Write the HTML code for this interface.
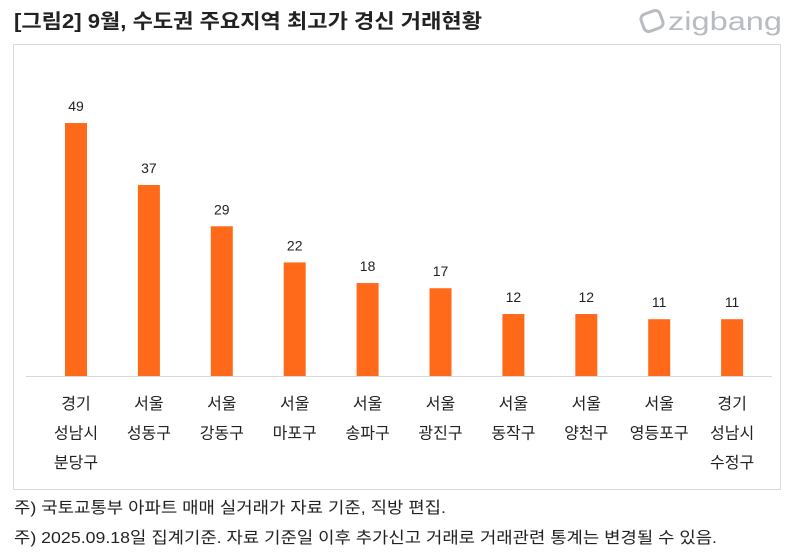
<!DOCTYPE html>
<html><head><meta charset="utf-8"><style>
body{margin:0;width:800px;height:549px;background:#fff;overflow:hidden;font-family:"Liberation Sans","Noto Sans CJK KR",sans-serif;}
</style></head><body>
<svg width="800" height="549" xmlns="http://www.w3.org/2000/svg">
<text x="14" y="28" font-size="20" font-weight="bold" fill="#222" textLength="468" lengthAdjust="spacingAndGlyphs" font-family="Liberation Sans,Noto Sans CJK KR,sans-serif">[그림2] 9월, 수도권 주요지역 최고가 경신 거래현황</text>
<g>
<rect x="642" y="12" width="20" height="18" rx="5" fill="none" stroke="#b8bcc2" stroke-width="3" transform="rotate(-20 652 21)"/>
<text x="668" y="30" font-size="26" fill="#b8bcc2" textLength="114" lengthAdjust="spacingAndGlyphs" font-family="Liberation Sans,sans-serif">zigbang</text>
</g>
<rect x="13.5" y="44.5" width="767" height="445" fill="none" stroke="#d9d9d9"/>
<line x1="26" y1="376.5" x2="772" y2="376.5" stroke="#d9d9d9"/>
<g id="bars"></g>
<text x="14" y="513" font-size="16" fill="#222" textLength="432" lengthAdjust="spacingAndGlyphs">주) 국토교통부 아파트 매매 실거래가 자료 기준, 직방 편집.</text>
<text x="14" y="543" font-size="16" fill="#222" textLength="703" lengthAdjust="spacingAndGlyphs">주)  2025.09.18일 집계기준. 자료 기준일 이후 추가신고 거래로 거래관련 통계는 변경될 수 있음.</text>
</svg>
<script>
const categories=[["경기","성남시","분당구"],["서울","성동구"],["서울","강동구"],["서울","마포구"],["서울","송파구"],["서울","광진구"],["서울","동작구"],["서울","양천구"],["서울","영등포구"],["경기","성남시","수정구"]];
const values=[49,37,29,22,18,17,12,12,11,11];
const NS="http://www.w3.org/2000/svg";
const g=document.getElementById("bars");
const x0=76,step=72.9,base=376,scale=5.163,bw=22;
const xPos=i=>x0+i*step;
const yPos=v=>base-v*scale;
values.forEach((v,i)=>{
  const r=document.createElementNS(NS,"rect");
  r.setAttribute("x",xPos(i)-bw/2);r.setAttribute("y",yPos(v));
  r.setAttribute("width",bw);r.setAttribute("height",base-yPos(v));r.setAttribute("fill","#ff6a1a");
  
  
  g.appendChild(r);
  const t=document.createElementNS(NS,"text");
  t.setAttribute("x",xPos(i));t.setAttribute("y",yPos(v)-12);t.setAttribute("text-anchor","middle");
  t.setAttribute("font-size","14");t.setAttribute("fill","#222");t.textContent=v;
  
  
  g.appendChild(t);
  categories[i].forEach((s,j)=>{
    const c=document.createElementNS(NS,"text");
    c.setAttribute("x",xPos(i));c.setAttribute("y",409+j*29.5);c.setAttribute("text-anchor","middle");
    c.setAttribute("font-size","16");c.setAttribute("fill","#222");c.textContent=s;
    
    
    g.appendChild(c);
  });
});
</script>
</body></html>
